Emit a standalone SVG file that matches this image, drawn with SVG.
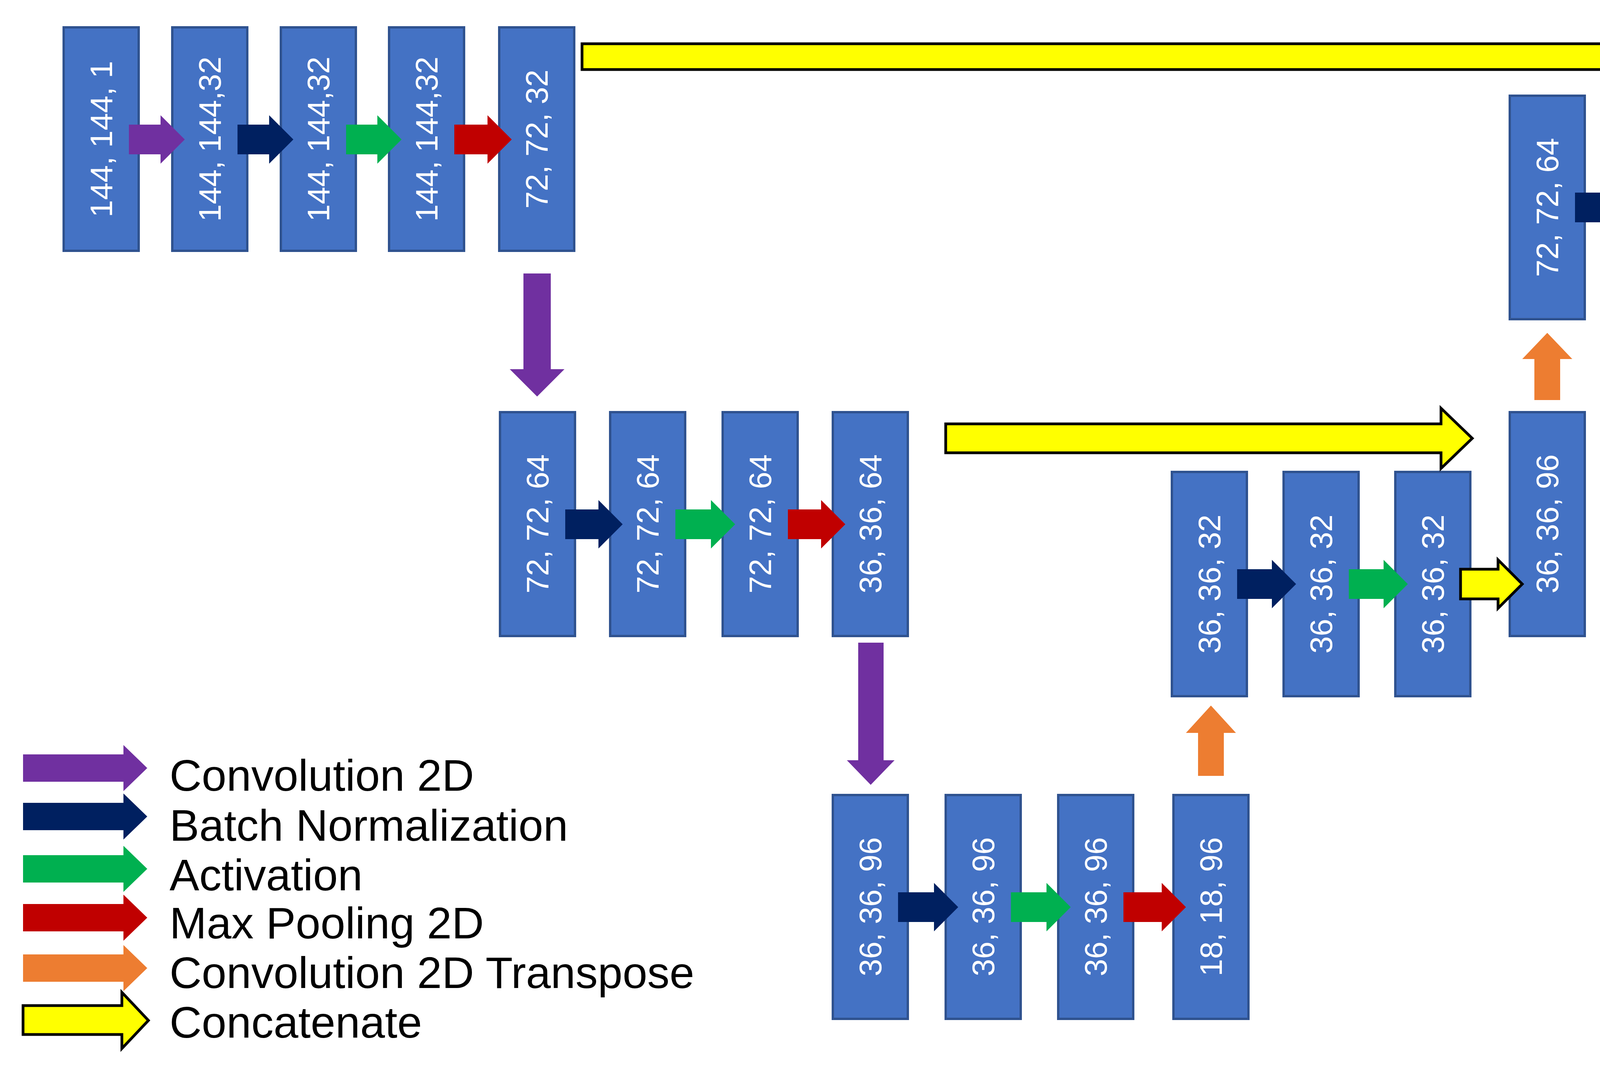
<svg xmlns="http://www.w3.org/2000/svg" width="6402" height="2744" viewBox="0 0 6402 2744">
<style>
.box rect{fill:#4472C4;stroke:#2F528F;stroke-width:6}
.box text{fill:#fff;font-family:"Liberation Sans",Arial,sans-serif;font-size:80px;text-anchor:middle;dominant-baseline:central}
.conv{fill:#7030A0}.bn{fill:#002060}.act{fill:#00B050}.mp{fill:#C00000}.ct{fill:#ED7D31}.cat{fill:#FFFF00;stroke:#000;stroke-width:7}
.leg{font-family:"Liberation Sans",Arial,sans-serif;font-size:114px;fill:#000}
</style>
<rect width="6402" height="2744" fill="#fff"/>
<g id="nodes">
<g id="n1" class="box"><rect x="163" y="70" width="192" height="572"/><text x="259" y="356" transform="rotate(-90 259 356)">144, 144, 1</text></g>
<g id="n2" class="box"><rect x="441" y="70" width="192" height="572"/><text x="537" y="356" transform="rotate(-90 537 356)">144, 144,32</text></g>
<g id="n3" class="box"><rect x="719" y="70" width="192" height="572"/><text x="815" y="356" transform="rotate(-90 815 356)">144, 144,32</text></g>
<g id="n4" class="box"><rect x="996" y="70" width="192" height="572"/><text x="1092" y="356" transform="rotate(-90 1092 356)">144, 144,32</text></g>
<g id="n5" class="box"><rect x="1278" y="70" width="192" height="572"/><text x="1374" y="356" transform="rotate(-90 1374 356)">72, 72, 32</text></g>
<g id="n6" class="box"><rect x="1280" y="1055" width="192" height="573"/><text x="1376" y="1341" transform="rotate(-90 1376 1341)">72, 72, 64</text></g>
<g id="n7" class="box"><rect x="1562" y="1055" width="192" height="573"/><text x="1658" y="1341" transform="rotate(-90 1658 1341)">72, 72, 64</text></g>
<g id="n8" class="box"><rect x="1850" y="1055" width="192" height="573"/><text x="1946" y="1341" transform="rotate(-90 1946 1341)">72, 72, 64</text></g>
<g id="n9" class="box"><rect x="2132" y="1055" width="192" height="573"/><text x="2228" y="1341" transform="rotate(-90 2228 1341)">36, 36, 64</text></g>
<g id="n10" class="box"><rect x="2132" y="2035" width="192" height="573"/><text x="2228" y="2321" transform="rotate(-90 2228 2321)">36, 36, 96</text></g>
<g id="n11" class="box"><rect x="2421" y="2035" width="192" height="573"/><text x="2517" y="2321" transform="rotate(-90 2517 2321)">36, 36, 96</text></g>
<g id="n12" class="box"><rect x="2709" y="2035" width="192" height="573"/><text x="2805" y="2321" transform="rotate(-90 2805 2321)">36, 36, 96</text></g>
<g id="n13" class="box"><rect x="3004" y="2035" width="192" height="573"/><text x="3100" y="2321" transform="rotate(-90 3100 2321)">18, 18, 96</text></g>
<g id="n14" class="box"><rect x="3000" y="1208" width="192" height="574"/><text x="3096" y="1495" transform="rotate(-90 3096 1495)">36, 36, 32</text></g>
<g id="n15" class="box"><rect x="3286" y="1208" width="192" height="574"/><text x="3382" y="1495" transform="rotate(-90 3382 1495)">36, 36, 32</text></g>
<g id="n16" class="box"><rect x="3572" y="1208" width="192" height="574"/><text x="3668" y="1495" transform="rotate(-90 3668 1495)">36, 36, 32</text></g>
<g id="n17" class="box"><rect x="3865" y="1055" width="192" height="573"/><text x="3961" y="1341" transform="rotate(-90 3961 1341)">36, 36, 96</text></g>
<g id="n18" class="box"><rect x="3865" y="245" width="192" height="572"/><text x="3961" y="531" transform="rotate(-90 3961 531)">72, 72, 64</text></g>
<g id="n19" class="box"><rect x="4149" y="245" width="192" height="572"/><text x="4245" y="531" transform="rotate(-90 4245 531)">72, 72, 64</text></g>
<g id="n20" class="box"><rect x="4437" y="245" width="192" height="572"/><text x="4533" y="531" transform="rotate(-90 4533 531)">72, 72, 64</text></g>
<g id="n21" class="box"><rect x="4725" y="70" width="192" height="572"/><text x="4821" y="356" transform="rotate(-90 4821 356)">72, 72, 96</text></g>
<g id="n22" class="box"><rect x="4992" y="70" width="192" height="572"/><text x="5088" y="356" transform="rotate(-90 5088 356)">144, 144,96</text></g>
<g id="n23" class="box"><rect x="5281" y="70" width="192" height="572"/><text x="5377" y="356" transform="rotate(-90 5377 356)">144, 144,96</text></g>
<g id="n24" class="box"><rect x="5570" y="70" width="192" height="572"/><text x="5666" y="356" transform="rotate(-90 5666 356)">144, 144,96</text></g>
<g id="n25" class="box"><rect x="5858" y="70" width="192" height="572"/><text x="5954" y="356" transform="rotate(-90 5954 356)">144, 144, 1</text></g>
<g id="n26" class="box"><rect x="6146" y="70" width="192" height="572"/><text x="6242" y="356" transform="rotate(-90 6242 356)">144, 144, 1</text></g>
</g>
<g id="connectors">
<path class="conv" d="M330,319H411V295L473,357L411,419V395H330Z"/>
<path class="bn" d="M608,319H689V295L751,357L689,419V395H608Z"/>
<path class="act" d="M886,319H966V295L1028,357L966,419V395H886Z"/>
<path class="mp" d="M1163,319H1248V295L1310,357L1248,419V395H1163Z"/>
<path class="cat" d="M1490,112H4540V78L4608,145L4540,212V178H1490Z"/>
<path class="conv" d="M1340,700H1410V945H1445L1375,1015L1305,945H1340Z"/>
<path class="bn" d="M1447,1304H1532V1280L1594,1342L1532,1404V1380H1447Z"/>
<path class="act" d="M1729,1304H1820V1280L1882,1342L1820,1404V1380H1729Z"/>
<path class="mp" d="M2017,1304H2102V1280L2164,1342L2102,1404V1380H2017Z"/>
<path class="cat" d="M2421,1085H3689V1045L3769,1122L3689,1199V1159H2421Z"/>
<path class="conv" d="M2197,1645H2262V1946H2290L2229,2009L2168,1946H2197Z"/>
<path class="bn" d="M2299,2284H2391V2260L2453,2322L2391,2384V2360H2299Z"/>
<path class="act" d="M2588,2284H2679V2260L2741,2322L2679,2384V2360H2588Z"/>
<path class="mp" d="M2876,2284H2974V2260L3036,2322L2974,2384V2360H2876Z"/>
<path class="ct" d="M3067,1986V1876H3036L3100,1806L3164,1876H3133V1986Z"/>
<path class="bn" d="M3167,1457H3256V1433L3318,1495L3256,1557V1533H3167Z"/>
<path class="act" d="M3453,1457H3542V1433L3604,1495L3542,1557V1533H3453Z"/>
<path class="cat" d="M3739,1457H3835V1433L3897,1495L3835,1557V1533H3739Z"/>
<path class="ct" d="M3928,1024V919H3897L3961,852L4025,919H3994V1024Z"/>
<path class="bn" d="M4032,493H4119V469L4181,531L4119,593V569H4032Z"/>
<path class="act" d="M4316,493H4407V469L4469,531L4407,593V569H4316Z"/>
<path class="cat" d="M4604,493H4695V469L4757,531L4695,593V569H4604Z"/>
<path class="conv" d="M4892,319H4962V295L5024,357L4962,419V395H4892Z"/>
<path class="bn" d="M5159,319H5251V295L5313,357L5251,419V395H5159Z"/>
<path class="act" d="M5448,319H5540V295L5602,357L5540,419V395H5448Z"/>
<path class="conv" d="M5737,319H5828V295L5890,357L5828,419V395H5737Z"/>
<path class="act" d="M6025,319H6116V295L6178,357L6116,419V395H6025Z"/>
</g>
<g id="legend">
<path class="conv" d="M59,1931H316V1907L377,1966L316,2025V2001H59Z"/>
<path class="bn" d="M59,2055H316V2031L377,2090L316,2149V2125H59Z"/>
<path class="act" d="M59,2189H316V2165L377,2224L316,2283V2259H59Z"/>
<path class="mp" d="M59,2314H316V2290L377,2349L316,2408V2384H59Z"/>
<path class="ct" d="M59,2443H316V2419L377,2478L316,2537V2513H59Z"/>
<path class="cat" d="M59,2574H312V2540L380,2612L312,2684V2648H59Z"/>
<text class="leg" x="434" y="2024">Convolution 2D</text>
<text class="leg" x="434" y="2152">Batch Normalization</text>
<text class="leg" x="434" y="2279">Activation</text>
<text class="leg" x="434" y="2402">Max Pooling 2D</text>
<text class="leg" x="434" y="2529">Convolution 2D Transpose</text>
<text class="leg" x="434" y="2656">Concatenate</text>
</g>
</svg>
